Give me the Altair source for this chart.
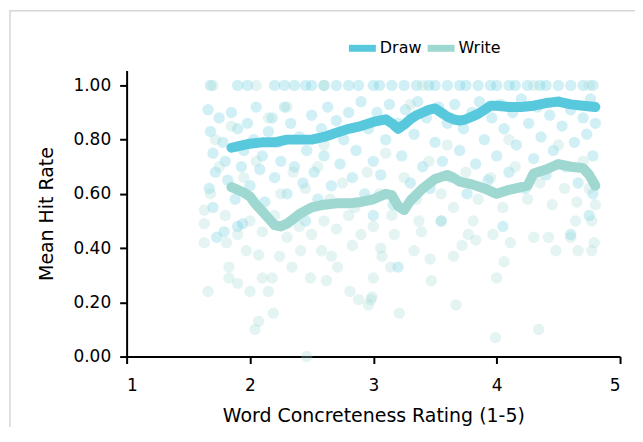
import altair as alt
import pandas as pd

# ---- scatter data: Draw ----
draw_top_x = [1.68, 1.9, 1.98, 2.2, 2.28, 2.36, 2.45, 2.5, 2.6, 2.7, 2.8, 2.88, 3.0, 3.05, 3.15,
              3.25, 3.35, 3.45, 3.5, 3.6, 3.7, 3.75, 3.85, 3.95, 4.0, 4.1, 4.15, 4.25, 4.35, 4.4,
              4.5, 4.6, 4.7, 4.78]
draw_x = [1.66, 1.68, 1.7, 1.72, 1.67, 1.7, 1.75, 1.78, 1.8, 1.82, 1.85, 1.88, 1.9, 1.93, 1.95, 1.98,
          2.0, 2.03, 2.05, 2.08, 2.1, 2.12, 2.15, 2.18, 2.2, 2.23, 2.25, 2.28, 2.3, 2.33, 2.36, 2.4,
          2.43, 2.46, 2.5, 2.52, 2.55, 2.58, 2.6, 2.63, 2.66, 2.7, 2.73, 2.76, 2.8, 2.83, 2.86, 2.9,
          2.93, 2.96, 3.0, 3.03, 3.06, 3.1, 3.13, 3.16, 3.2, 3.23, 3.26, 3.3, 3.33, 3.36, 3.4, 3.43,
          3.46, 3.5, 3.53, 3.56, 3.6, 3.63, 3.66, 3.7, 3.73, 3.76, 3.8, 3.83, 3.86, 3.9, 3.93, 3.96,
          4.0, 4.03, 4.06, 4.1, 4.13, 4.16, 4.2, 4.23, 4.26, 4.3, 4.33, 4.36, 4.4, 4.43, 4.46, 4.5,
          4.53, 4.56, 4.6, 4.63, 4.66, 4.7, 4.73, 4.76, 4.78, 4.8, 4.78,
          1.9, 2.45, 3.0, 3.55, 4.05, 4.6, 1.73, 4.75, 1.79, 1.94, 3.2]
draw_y = [0.91, 0.83, 0.75, 0.68, 0.62, 0.55, 0.88, 0.79, 0.72, 0.65, 0.9, 0.58, 0.84, 0.7, 0.76, 0.86,
          0.63, 0.8, 0.92, 0.69, 0.74, 0.57, 0.83, 0.88, 0.66, 0.79, 0.72, 0.92, 0.6, 0.86, 0.7, 0.81,
          0.64, 0.76, 0.89, 0.68, 0.58, 0.84, 0.74, 0.92, 0.63, 0.87, 0.71, 0.8, 0.9, 0.66, 0.76, 0.94,
          0.6, 0.84, 0.72, 0.9, 0.67, 0.8, 0.93, 0.56, 0.86, 0.74, 0.91, 0.64, 0.82, 0.94, 0.7, 0.88,
          0.62, 0.79, 0.92, 0.72, 0.86, 0.66, 0.93, 0.76, 0.84, 0.6, 0.9, 0.71, 0.94, 0.8, 0.65, 0.88,
          0.74, 0.93, 0.84, 0.68, 0.9, 0.78, 0.95, 0.62, 0.86, 0.73, 0.92, 0.81, 0.67, 0.89, 0.76, 0.94,
          0.85, 0.7, 0.91, 0.79, 0.64, 0.88, 0.82, 0.95, 0.74, 0.86, 0.6,
          0.48, 0.5, 0.52, 0.5, 0.48, 0.45, 0.44, 0.52, 0.46, 0.49, 0.33]

# ---- scatter data: Write ----
write_x = [1.63, 1.63, 1.66, 1.83, 1.83, 1.9, 2.0, 2.07, 2.04, 2.19, 2.15, 2.1, 2.18, 2.34, 2.46,
           2.49, 2.62, 2.71, 2.81, 2.88, 2.96, 2.98, 3.0, 1.97, 2.07, 2.24, 2.41, 2.58, 2.66, 2.83,
           1.81, 1.63, 2.99, 3.21, 3.67, 3.99, 4.34, 3.14, 3.47, 3.46, 3.33, 3.65, 3.72, 3.83, 4.0,
           4.06, 4.11, 3.97, 4.3, 4.42, 4.48, 4.6, 4.66, 4.77, 4.79, 4.64, 4.77, 3.06, 3.07, 3.17,
           3.39, 3.77, 3.81, 3.55, 3.37,
           1.68, 1.75, 1.8, 1.9, 2.0, 2.1, 2.2, 2.3, 2.4, 2.5, 2.6, 2.7, 2.8, 2.9, 3.0, 1.72, 1.95,
           2.05, 2.25, 2.35, 2.45, 2.55, 2.65, 2.75, 2.85, 2.95, 3.05, 3.15, 3.25, 3.35, 3.45, 3.55,
           3.65, 3.75, 3.85, 3.95, 4.05, 4.15, 4.25, 4.35, 4.45, 4.55, 4.65, 4.75, 4.8, 1.85, 2.15,
           2.6, 3.1, 3.6, 4.1, 4.5, 4.7, 2.3, 3.3, 1.7, 2.05, 2.6, 3.4, 4.3, 4.75]
write_y = [0.54, 0.42, 0.24, 0.33, 0.29, 0.27, 0.24, 0.13, 0.10, 0.16, 0.24, 0.29, 0.29, 0.33, 0.0,
           0.29, 0.28, 0.33, 0.24, 0.21, 0.19, 0.21, 0.29, 0.39, 0.375, 0.37, 0.39, 0.39, 0.37, 0.41,
           0.42, 0.49, 0.22, 0.16, 0.19, 0.07, 0.10, 0.33, 0.28, 0.36, 0.39, 0.37, 0.41, 0.43, 0.29,
           0.35, 0.42, 0.45, 0.44, 0.44, 0.39, 0.44, 0.39, 0.39, 0.42, 0.5, 0.5, 0.40, 0.37, 0.45,
           0.46, 0.45, 0.5, 0.5, 0.5,
           0.6, 0.7, 0.52, 0.45, 0.5, 0.46, 0.52, 0.44, 0.48, 0.45, 0.5, 0.47, 0.52, 0.45, 0.48, 0.8,
           0.66, 0.72, 0.6, 0.68, 0.62, 0.7, 0.58, 0.64, 0.55, 0.68, 0.6, 0.52, 0.66, 0.58, 0.72, 0.6,
           0.55, 0.68, 0.58, 0.66, 0.55, 0.7, 0.58, 0.64, 0.56, 0.62, 0.57, 0.62, 0.56, 0.85, 0.88,
           0.78, 0.75, 0.78, 0.8, 0.78, 0.72, 0.92, 0.93, 1.0, 1.0, 1.0, 1.0, 1.0, 1.0]

# ---- moving-average lines ----
draw_line_x = [1.85, 1.9, 2.0, 2.1, 2.2, 2.3, 2.4, 2.5, 2.6, 2.7, 2.8, 2.9, 3.0, 3.05, 3.1, 3.15,
               3.2, 3.25, 3.3, 3.35, 3.4, 3.45, 3.5, 3.55, 3.6, 3.65, 3.7, 3.75, 3.8, 3.85, 3.9,
               3.95, 4.0, 4.1, 4.2, 4.3, 4.4, 4.5, 4.6, 4.7, 4.8]
draw_line_y = [0.77, 0.775, 0.785, 0.79, 0.79, 0.80, 0.80, 0.80, 0.81, 0.825, 0.84, 0.85, 0.865,
               0.87, 0.875, 0.86, 0.84, 0.855, 0.875, 0.89, 0.90, 0.91, 0.915, 0.90, 0.885, 0.875,
               0.87, 0.875, 0.885, 0.895, 0.91, 0.925, 0.925, 0.92, 0.92, 0.925, 0.935, 0.94,
               0.93, 0.925, 0.92]
write_line_x = [1.85, 1.9, 1.95, 2.0, 2.05, 2.1, 2.15, 2.2, 2.25, 2.3, 2.4, 2.5, 2.6, 2.7, 2.8,
                2.9, 3.0, 3.1, 3.15, 3.2, 3.25, 3.3, 3.4, 3.5, 3.6, 3.65, 3.7, 3.8, 3.9, 4.0,
                4.1, 4.2, 4.25, 4.3, 4.4, 4.5, 4.6, 4.7, 4.75, 4.8]
write_line_y = [0.625, 0.615, 0.605, 0.59, 0.56, 0.535, 0.51, 0.485, 0.48, 0.49, 0.525, 0.55,
                0.56, 0.565, 0.565, 0.57, 0.58, 0.60, 0.595, 0.555, 0.54, 0.575, 0.62, 0.655,
                0.67, 0.66, 0.645, 0.635, 0.62, 0.60, 0.615, 0.625, 0.63, 0.675, 0.69, 0.71,
                0.70, 0.695, 0.67, 0.63]

series = ["Draw", "Write"]
line_colors = ["#58c8dd", "#9fd7d1"]

pts = pd.DataFrame(
    {"x": draw_top_x + draw_x + write_x,
     "y": [1.0] * len(draw_top_x) + draw_y + write_y,
     "s": ["Draw"] * (len(draw_top_x) + len(draw_x)) + ["Write"] * len(write_x)}
)
lines = pd.DataFrame(
    {"x": draw_line_x + write_line_x,
     "y": draw_line_y + write_line_y,
     "s": ["Draw"] * len(draw_line_x) + ["Write"] * len(write_line_x)}
)

FONT = "DejaVu Sans"
xs = alt.Scale(domain=[1, 5], nice=False)
ys = alt.Scale(domain=[0, 1.055], nice=False)
cs = alt.Scale(domain=series, range=line_colors)

legend = alt.Legend(title=None, orient="none", legendX=219, legendY=-40,
                    direction="horizontal", symbolType="stroke",
                    symbolStrokeWidth=7, symbolSize=730, symbolOpacity=1,
                    labelFont=FONT, labelFontSize=16, labelColor="black",
                    labelOffset=0, columnPadding=-9)

frame = alt.Chart(pd.DataFrame({"a": [0]})).mark_rect(
    fill=None, stroke="#d6d6d6", strokeWidth=1.5
).encode(x=alt.value(-117), x2=alt.value(800), y=alt.value(-60), y2=alt.value(600))

scatter = alt.Chart(pts).mark_circle(size=130, opacity=0.28).encode(
    x=alt.X("x:Q", scale=xs, title="Word Concreteness Rating (1-5)",
            axis=alt.Axis(values=[1, 2, 3, 4, 5], format="d")),
    y=alt.Y("y:Q", scale=ys, title="Mean Hit Rate",
            axis=alt.Axis(values=[0, 0.2, 0.4, 0.6, 0.8, 1.0], format=".2f")),
    color=alt.Color("s:N", scale=cs, legend=legend),
)

line = alt.Chart(lines).mark_line(strokeWidth=10, strokeCap="round", strokeJoin="round").encode(
    x=alt.X("x:Q", scale=xs),
    y=alt.Y("y:Q", scale=ys),
    color=alt.Color("s:N", scale=cs, legend=legend),
)

chart = alt.layer(frame, scatter, line).properties(
    width=495, height=287,
    autosize=alt.AutoSizeParams(type="none"),
    padding={"left": 119, "top": 62, "right": 15, "bottom": 70},
).configure_view(stroke=None).configure_axis(
    grid=False, domainColor="black", domainWidth=2, tickColor="black", tickWidth=2, tickSize=7,
    labelFontSize=17, titleFontSize=19, labelFont=FONT, titleFont=FONT,
    labelColor="black", titleColor="black", titleFontWeight="normal",
).configure_axisX(labelPadding=14, titlePadding=13).configure_axisY(labelPadding=9, titlePadding=17)

chart.save("out.html", embed_options={"renderer": "svg", "actions": False})
